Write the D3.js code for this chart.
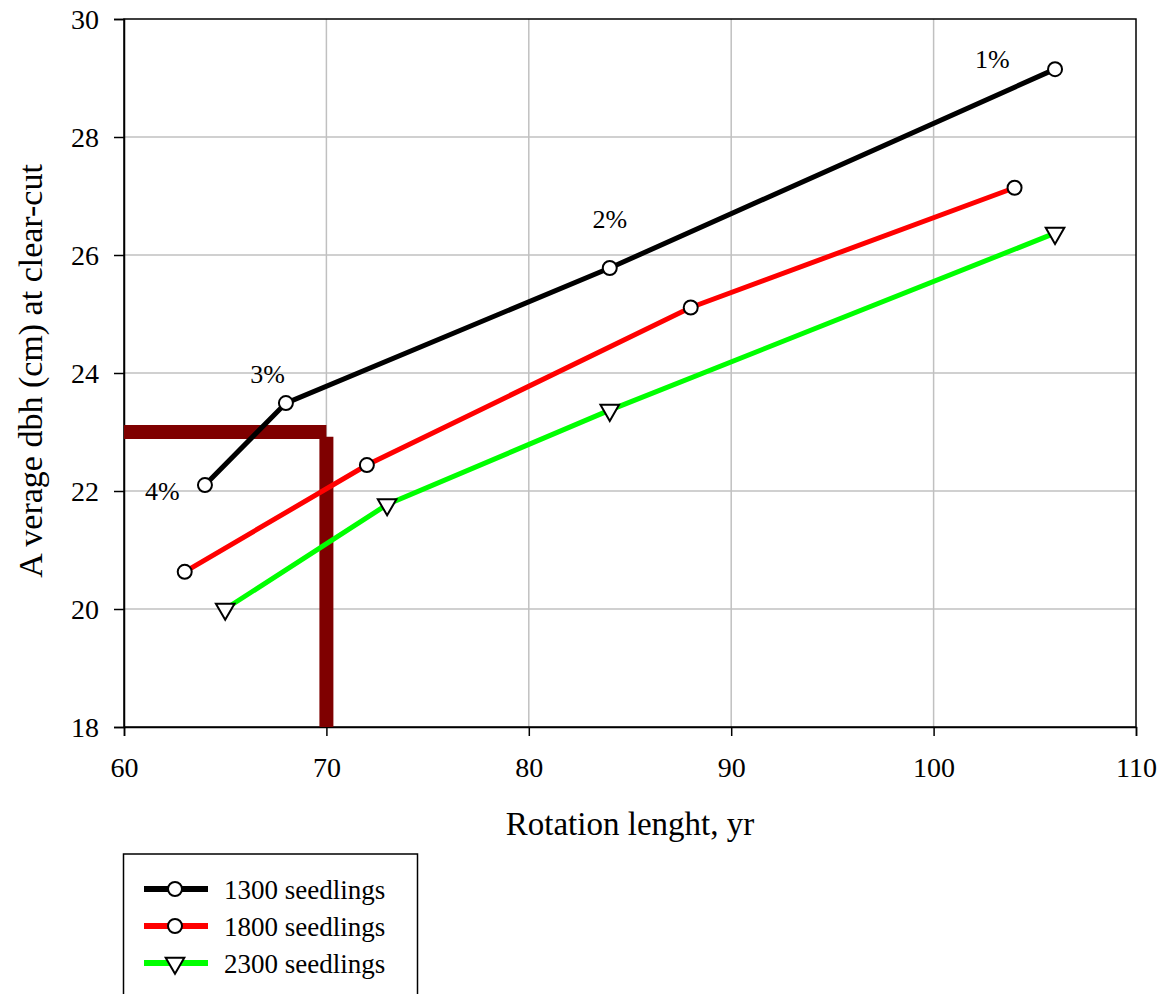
<!DOCTYPE html>
<html><head><meta charset="utf-8">
<script src="https://cdn.jsdelivr.net/npm/d3@7"></script>
<style>body{margin:0;background:#fff}svg{display:block}text{font-family:"Liberation Serif","Times New Roman",serif;fill:#000}</style>
</head><body>
<svg id="c" width="1161" height="994"></svg>
<script>
const xTicks = [60,70,80,90,100,110];
const yTicks = [18,20,22,24,26,28,30];
const s1300 = [[64,22.1],[68,23.49],[84,25.78],[106,29.15]];
const s1800 = [[63,20.63],[72,22.44],[88,25.11],[104,27.14]];
const s2300 = [[65,20.0],[73,21.77],[84,23.37],[106,26.37]];
const seriesNames = ["1300 seedlings","1800 seedlings","2300 seedlings"];
const seriesColors = ["#000000","#ff0000","#00ff00"];
const seriesMarkers = ["circle","circle","triangle"];
const rateLabels = [["1%",102.9,29.17],["2%",84.0,26.46],["3%",67.1,23.83],["4%",61.9,21.84]];
const hBar = [[60,23],[70,23]];
const vBar = [[70,22.92],[70,18]];

const svg = d3.select("#c");
const L=124,R=1136,T=19,B=727;
const x = d3.scaleLinear().domain([60,110]).range([L,R]);
const y = d3.scaleLinear().domain([18,30]).range([B,T]);

// grid
svg.append("g").selectAll("line").data(xTicks.slice(1,-1)).join("line")
  .attr("x1",d=>x(d)).attr("x2",d=>x(d)).attr("y1",T).attr("y2",B)
  .attr("stroke","#c0c0c0").attr("stroke-width",1.5);
svg.append("g").selectAll("line").data(yTicks.slice(1,-1)).join("line")
  .attr("y1",d=>y(d)).attr("y2",d=>y(d)).attr("x1",L).attr("x2",R)
  .attr("stroke","#c0c0c0").attr("stroke-width",1.5);

// frame
svg.append("rect").attr("x",L).attr("y",T).attr("width",R-L).attr("height",B-T)
  .attr("fill","none").attr("stroke","#000").attr("stroke-width",1.5);

// axes
const xa = svg.append("g").attr("transform",`translate(0,${B})`)
  .call(d3.axisBottom(x).tickValues(xTicks).tickSize(9).tickPadding(21).tickFormat(d3.format("d")));
const ya = svg.append("g").attr("transform",`translate(${L},0)`)
  .call(d3.axisLeft(y).tickValues(yTicks).tickSize(10).tickPadding(15).tickFormat(d3.format("d")));
[xa,ya].forEach(a=>{
  a.select(".domain").attr("stroke","#000").attr("stroke-width",1.5);
  a.selectAll(".tick line").attr("stroke","#000").attr("stroke-width",1.5);
  a.selectAll(".tick text").style("font-family","Liberation Serif").style("font-size","28px").attr("fill","#000");
});
ya.selectAll(".tick text").attr("dy","0.34em");

// dark red bars
const ln = d3.line().x(d=>x(d[0])).y(d=>y(d[1]));
svg.append("path").attr("d",ln(hBar)).attr("stroke","#7f0000").attr("stroke-width",14).attr("fill","none");
svg.append("path").attr("d",ln(vBar)).attr("stroke","#7f0000").attr("stroke-width",14).attr("fill","none");

// series
const allSeries=[s1300,s1800,s2300];
const tri = d3.symbol().type(d3.symbolTriangle).size(150);
function marker(g,type,cx,cy){
  if(type==="circle"){
    g.append("circle").attr("cx",cx).attr("cy",cy).attr("r",7).attr("fill","#fff").attr("stroke","#000").attr("stroke-width",2);
  } else {
    g.append("path").attr("d",tri).attr("transform",`translate(${cx},${cy}) rotate(180)`)
     .attr("fill","#fff").attr("stroke","#000").attr("stroke-width",2);
  }
}
allSeries.forEach((s,i)=>{
  svg.append("path").attr("d",ln(s)).attr("stroke",seriesColors[i]).attr("stroke-width",5).attr("fill","none");
  const g=svg.append("g");
  s.forEach(d=>marker(g,seriesMarkers[i],x(d[0]),y(d[1])));
});

// rate labels
svg.append("g").selectAll("text").data(rateLabels).join("text")
  .attr("x",d=>x(d[1])).attr("y",d=>y(d[2])).attr("text-anchor","middle")
  .style("font-size","26px").text(d=>d[0]);

// axis titles
svg.append("text").attr("x",630).attr("y",835).attr("text-anchor","middle").style("font-size","33px").text("Rotation lenght, yr");
svg.append("text").attr("transform",`translate(42,371) rotate(-90)`).attr("text-anchor","middle").style("font-size","34px").text("A verage dbh (cm) at clear-cut");

// legend
const lg = svg.append("g");
lg.append("rect").attr("x",123.5).attr("y",854).attr("width",294).attr("height",160).attr("fill","#fff").attr("stroke","#000").attr("stroke-width",1.5);
seriesNames.forEach((n,i)=>{
  const yy=889+i*37;
  lg.append("line").attr("x1",144).attr("x2",208).attr("y1",yy).attr("y2",yy).attr("stroke",seriesColors[i]).attr("stroke-width",6);
  marker(lg,seriesMarkers[i],175,yy);
  lg.append("text").attr("x",224).attr("y",yy+10).style("font-size","27px").text(n);
});
</script>
</body></html>
